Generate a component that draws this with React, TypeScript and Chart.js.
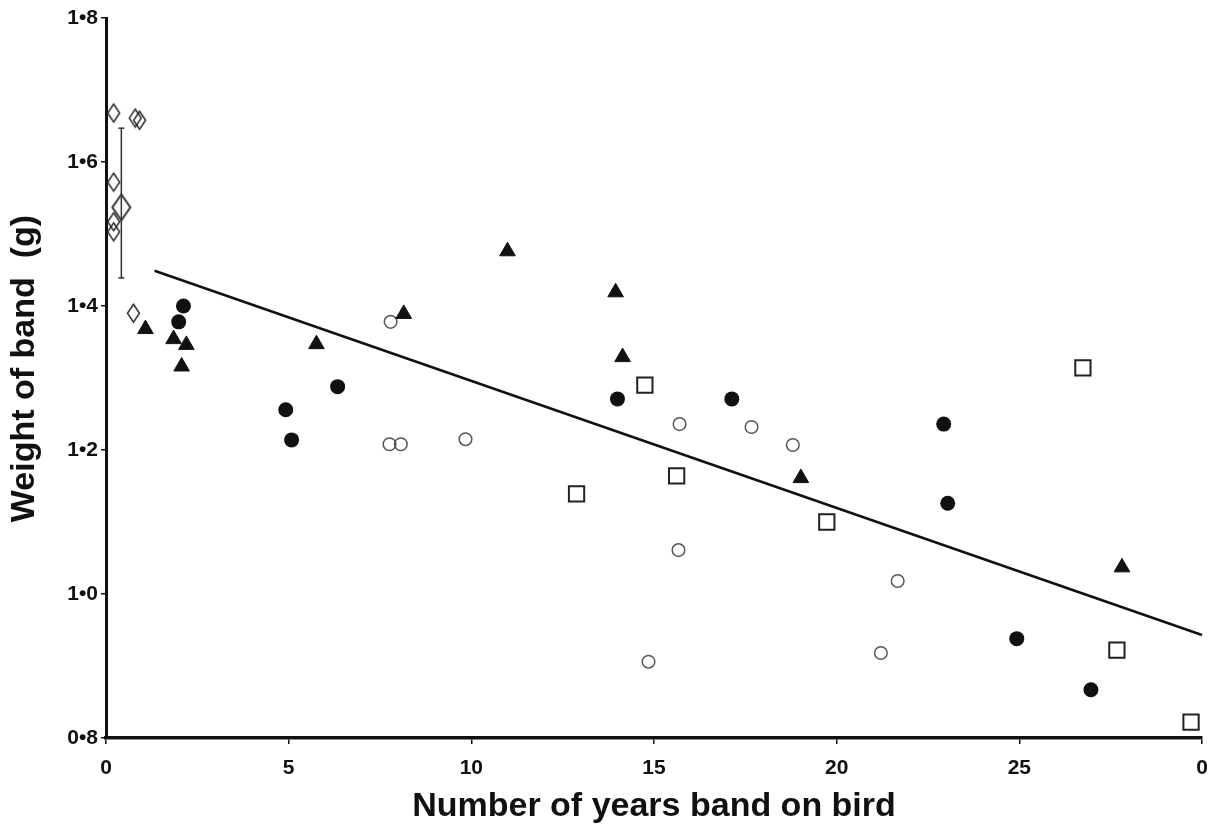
import React, { useEffect, useRef } from 'react';
import { Chart, registerables } from 'chart.js';

Chart.register(...registerables);

// Tick values and labels
const xTickValues = [0, 5, 10, 15, 20, 25, 30];
const xTickLabels = ['0', '5', '10', '15', '20', '25', '0'];
const yTickValues = [0.8, 1.0, 1.2, 1.4, 1.6, 1.8];
const yTickLabels = ['0•8', '1•0', '1•2', '1•4', '1•6', '1•8'];

// Open diamonds (new bands)
const diamondX = [0.21, 0.8, 0.92, 0.21, 0.21, 0.21, 0.75];
const diamondY = [1.668, 1.661, 1.658, 1.572, 1.517, 1.503, 1.39];

// Mean of diamonds with error bar
const meanX = [0.42];
const meanY = [1.537];
const errTop = [1.647];
const errBottom = [1.439];

// Filled triangles
const triX = [1.08, 1.85, 2.2, 2.07, 5.76, 8.15, 10.99, 13.95, 14.14, 19.02, 27.81];
const triY = [1.368, 1.354, 1.346, 1.316, 1.347, 1.389, 1.476, 1.419, 1.329, 1.161, 1.037];

// Filled circles
const dotX = [2.12, 1.99, 4.92, 5.08, 6.34, 14.0, 17.13, 22.93, 23.04, 24.93, 26.96];
const dotY = [1.4, 1.378, 1.256, 1.214, 1.288, 1.271, 1.271, 1.236, 1.126, 0.938, 0.867];

// Open circles
const ringX = [7.79, 7.76, 8.07, 9.84, 15.7, 17.67, 18.8, 15.67, 14.85, 21.67, 21.21];
const ringY = [1.378, 1.208, 1.208, 1.215, 1.236, 1.232, 1.207, 1.061, 0.906, 1.018, 0.918];

// Open squares
const sqX = [12.88, 14.75, 15.62, 19.73, 26.74, 27.67, 29.7];
const sqY = [1.139, 1.29, 1.164, 1.1, 1.314, 0.922, 0.822];

// Regression line end points
const regX = [1.33, 30.0];
const regY = [1.449, 0.943];

const pts = (xs: number[], ys: number[]) => xs.map((x, i) => ({ x, y: ys[i] }));

function makeDiamond(w: number, h: number, lw: number, color: string) {
  const c = document.createElement('canvas');
  c.width = Math.ceil(w + lw * 2 + 2);
  c.height = Math.ceil(h + lw * 2 + 2);
  const ctx = c.getContext('2d')!;
  const cx = c.width / 2;
  const cy = c.height / 2;
  ctx.beginPath();
  ctx.moveTo(cx, cy - h / 2);
  ctx.lineTo(cx + w / 2, cy);
  ctx.lineTo(cx, cy + h / 2);
  ctx.lineTo(cx - w / 2, cy);
  ctx.closePath();
  ctx.lineWidth = lw;
  ctx.strokeStyle = color;
  ctx.lineJoin = 'miter';
  ctx.stroke();
  return c;
}

export default function App() {
  const ref = useRef<HTMLCanvasElement | null>(null);

  useEffect(() => {
    if (!ref.current) return;
    const smallDiamond = makeDiamond(12, 18, 1.4, '#222');
    const bigDiamond = makeDiamond(18, 26, 1.8, '#222');
    const tickFont = { family: 'Liberation Sans', size: 21, weight: 'bold' as const };
    const titleFont = { family: 'Liberation Sans', size: 34, weight: 'bold' as const };

    const chart = new Chart(ref.current, {
      type: 'scatter',
      data: {
        datasets: [
          {
            type: 'line',
            data: pts(regX, regY),
            borderColor: '#111',
            borderWidth: 2.5,
            pointRadius: 0,
            fill: false,
          } as any,
          {
            type: 'line',
            data: [
              { x: meanX[0], y: errTop[0] },
              { x: meanX[0], y: errBottom[0] },
            ],
            borderColor: '#333',
            borderWidth: 1.5,
            pointStyle: 'line',
            pointRadius: 3,
            pointBorderWidth: 1.5,
            pointBorderColor: '#333',
            fill: false,
          } as any,
          {
            data: pts(diamondX, diamondY),
            pointStyle: smallDiamond,
          } as any,
          {
            data: pts(meanX, meanY),
            pointStyle: bigDiamond,
          } as any,
          {
            data: pts(triX, triY),
            pointStyle: 'triangle',
            pointRadius: 9,
            backgroundColor: '#111',
            borderColor: '#111',
            borderWidth: 1,
          },
          {
            data: pts(dotX, dotY),
            pointStyle: 'circle',
            pointRadius: 7.5,
            backgroundColor: '#111',
            borderColor: '#111',
            borderWidth: 0,
          },
          {
            data: pts(ringX, ringY),
            pointStyle: 'circle',
            pointRadius: 6.3,
            backgroundColor: 'rgba(0,0,0,0)',
            borderColor: '#555',
            borderWidth: 1.5,
          },
          {
            data: pts(sqX, sqY),
            pointStyle: 'rect',
            pointRadius: 10.8,
            backgroundColor: 'rgba(0,0,0,0)',
            borderColor: '#222',
            borderWidth: 2,
          },
        ],
      },
      options: {
        animation: false,
        responsive: true,
        maintainAspectRatio: false,
        clip: false as any,
        layout: { padding: { left: 0, right: 21, top: 18, bottom: 0 } },
        plugins: {
          legend: { display: false },
          tooltip: { enabled: false },
        },
        scales: {
          x: {
            type: 'linear',
            min: 0,
            max: 30,
            afterFit: (s: any) => {
              s.height = 93;
            },
            afterBuildTicks: (s: any) => {
              s.ticks = xTickValues.map((v) => ({ value: v }));
            },
            ticks: {
              color: '#111',
              font: tickFont,
              padding: 12,
              maxRotation: 0,
              autoSkip: false,
              callback: (v: any) => {
                const i = xTickValues.findIndex((t) => Math.abs(t - Number(v)) < 1e-6);
                return i >= 0 ? xTickLabels[i] : '';
              },
            },
            grid: {
              drawOnChartArea: false,
              drawTicks: true,
              tickLength: 6,
              color: '#111',
              lineWidth: 1.5,
            },
            border: { display: true, color: '#111', width: 3.5 },
            title: {
              display: true,
              text: 'Number of years band on bird',
              color: '#111',
              font: titleFont,
              padding: { top: 0, bottom: 4 },
            },
          },
          y: {
            type: 'linear',
            min: 0.8,
            max: 1.8,
            afterFit: (s: any) => {
              s.width = 106;
            },
            afterBuildTicks: (s: any) => {
              s.ticks = yTickValues.map((v) => ({ value: v }));
            },
            ticks: {
              color: '#111',
              font: tickFont,
              padding: 3,
              autoSkip: false,
              callback: (v: any) => {
                const i = yTickValues.findIndex((t) => Math.abs(t - Number(v)) < 1e-6);
                return i >= 0 ? yTickLabels[i] : '';
              },
            },
            grid: {
              drawOnChartArea: false,
              drawTicks: true,
              tickLength: 5,
              color: '#111',
              lineWidth: 1.5,
            },
            border: { display: true, color: '#111', width: 3 },
            title: {
              display: true,
              text: '  Weight of band  (g)',
              color: '#111',
              font: titleFont,
              padding: { top: 4, bottom: 0 },
            },
          },
        },
      },
    });
    return () => chart.destroy();
  }, []);

  return (
    <div style={{ position: 'fixed', left: 0, top: 0, width: 1223, height: 831, background: '#fff' }}>
      <canvas ref={ref} />
    </div>
  );
}
